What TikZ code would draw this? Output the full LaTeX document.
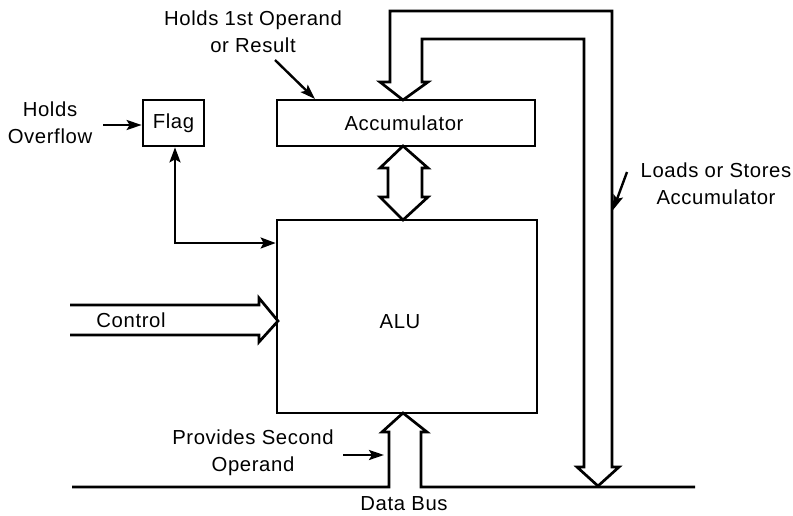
\documentclass[tikz,border=0pt]{standalone}
\usepackage{fontspec}
\setmainfont{Liberation Sans}[LetterSpace=3]
\usetikzlibrary{arrows.meta}
\begin{document}
\begin{tikzpicture}[x=1pt,y=-1pt,
  line width=2.6pt, line join=miter,
  every node/.style={font=\fontsize{20.3}{27}\selectfont},
  box/.style={draw, line width=2.7pt, inner sep=0pt},
  lbl/.style={align=center, inner sep=0pt},
  ptr/.style={-{Stealth[length=15pt,width=10pt,inset=3pt]}, line width=2.4pt},
  bus/.style={line width=2.7pt, line join=miter}]
\useasboundingbox (0,0) rectangle (793,515);
% blocks
\node[box, minimum width=61pt, minimum height=46pt] (flag) at (173.5,123) {Flag};
\node[box, minimum width=258pt, minimum height=46pt] (acc) at (406,123) {};
\node[lbl] (acctext) at (404,123) {Accumulator};
\node[box, minimum width=260pt, minimum height=193pt] (alu) at (407,316.5) {};
\node[lbl] (alutext) at (400,322) {ALU};
% labels
\node[lbl] (l1) at (253,32) {Holds 1st Operand\\or Result};
\node[lbl] (l2) at (50,123) {Holds\\Overflow};
\node[lbl] (l3) at (716,184) {Loads or Stores\\Accumulator};
\node[lbl] (l4) at (253,453) {Provides Second\\Operand};
\node[lbl] (l5) at (131,320) {Control};
\node[lbl] (l6) at (404,504) {Data Bus};
% pointer coordinates
\coordinate (p1s) at (275,60);  \coordinate (p1e) at (315,99);
\coordinate (p2s) at (103,125);
\coordinate (p3s) at (627,172); \coordinate (p3e) at (613,210);
\coordinate (p4s) at (343,455); \coordinate (p4e) at (384,455);
\coordinate (fbend) at (175,243);
\draw[ptr] (p1s) -- (p1e);
\draw[ptr] (p2s) -- (flag.west |- p2s);
\draw[ptr] (p3s) -- (p3e);
\draw[ptr] (p4s) -- (p4e);
\draw[{Stealth[length=15pt,width=11pt,inset=3pt]}-{Stealth[length=15pt,width=11pt,inset=3pt]}, line width=2.4pt]
  (flag.south -| fbend) -- (fbend) -- (alu.west |- fbend);
% accumulator <-> bus (looping hollow arrow)
\draw[bus] (598,486) -- (619,467) -- (612,467) -- (612,11) -- (390,11) -- (390,82)
  -- (380,82) -- (403,100) -- (428,82) -- (422,82) -- (422,39) -- (584,39)
  -- (584,467) -- (577,467) -- cycle;
% accumulator <-> ALU hollow double arrow
\draw[bus] (403,146) -- (428,168) -- (422,168) -- (422,197) -- (428,197) -- (403,220)
  -- (380,197) -- (388,197) -- (388,168) -- (380,168) -- cycle;
% control hollow arrow
\draw[bus] (70,305) -- (259,305) -- (259,298) -- (278,321) -- (259,342) -- (259,335) -- (70,335);
% data bus with hollow arrow to ALU
\draw[bus] (72,487) -- (389,487) -- (389,432) -- (382,432) -- (403,413) -- (427,432)
  -- (421,432) -- (421,487) -- (695,487);
\end{tikzpicture}
\end{document}
